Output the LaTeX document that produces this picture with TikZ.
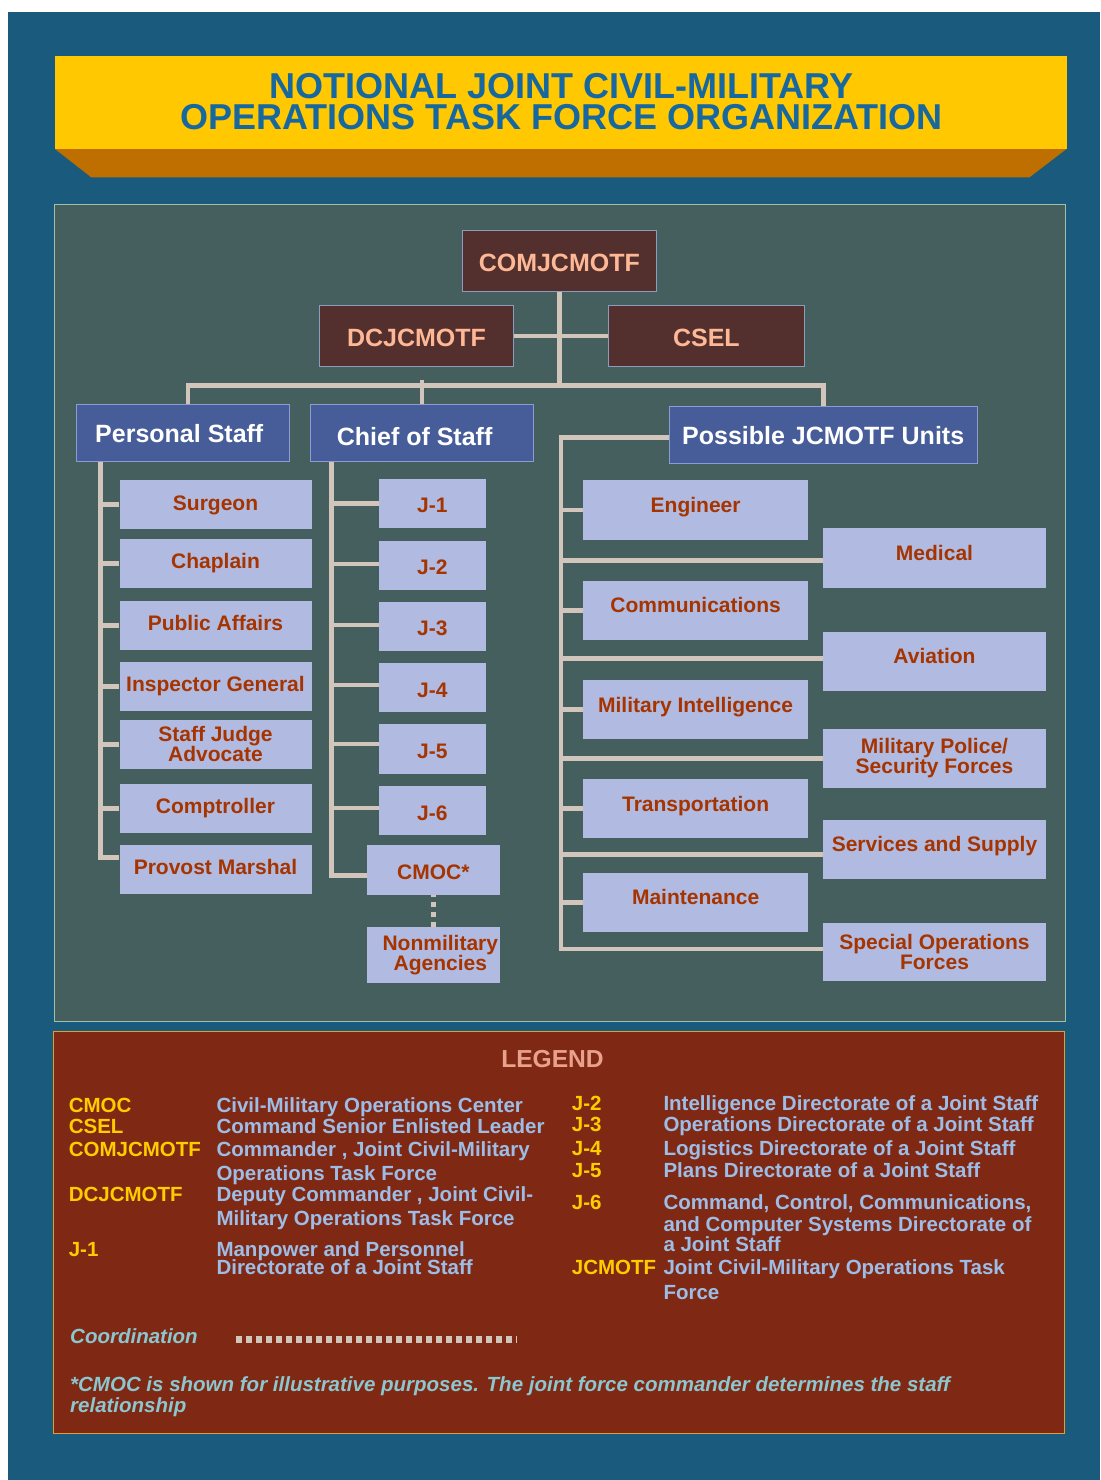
\documentclass[tikz,border=0pt]{standalone}
\usepackage{fontspec}
\setmainfont{Liberation Sans}
\newcommand\myfs[1]{\fontsize{#1}{#1}\selectfont}
\definecolor{bgblue}{RGB}{26,90,124}
\definecolor{titleblue}{RGB}{24,104,160}
\definecolor{banner}{RGB}{255,200,0}
\definecolor{bannerdk}{RGB}{191,110,0}
\definecolor{panel}{RGB}{69,95,95}
\definecolor{panelbd}{RGB}{160,192,170}
\definecolor{legbg}{RGB}{127,41,21}
\definecolor{legbd}{RGB}{224,160,48}
\definecolor{brownc}{RGB}{83,48,45}
\definecolor{brownbd}{RGB}{140,155,190}
\definecolor{peach}{RGB}{255,184,150}
\definecolor{hdrblue}{RGB}{71,93,153}
\definecolor{hdrbd}{RGB}{140,156,210}
\definecolor{lightc}{RGB}{177,186,224}
\definecolor{orangec}{RGB}{165,52,0}
\definecolor{connc}{RGB}{210,197,188}
\definecolor{termc}{RGB}{255,204,0}
\definecolor{descc}{RGB}{157,189,230}
\definecolor{legtitle}{RGB}{233,160,140}
\definecolor{notec}{RGB}{140,198,206}
\begin{document}
\begin{tikzpicture}[x=1pt,y=-1pt,
  conn/.style={draw=connc, line width=4.7pt},
  dotconn/.style={draw=connc, line width=5pt, dash pattern=on 5pt off 5pt, dash phase=3pt},
  coordline/.style={draw=connc, line width=6.5pt, dash pattern=on 6pt off 4pt},
  brownbox/.style={fill=brownc, draw=brownbd, line width=1pt, inner sep=0pt, text=peach, font=\bfseries\myfs{25}, text height=22pt, text depth=2pt},
  hdrbox/.style={fill=hdrblue, draw=hdrbd, line width=1pt, inner sep=0pt, text=white, font=\bfseries\myfs{25}, text height=21pt, text depth=3pt},
  lbase/.style={fill=lightc, inner sep=0pt, text=orangec, font=\bfseries\myfs{21}},
  lbox/.style={lbase, text height=15.5pt, text depth=4.5pt, minimum width=192pt, minimum height=49pt},
  ubox/.style={lbase, text height=12.5pt, text depth=7.5pt, minimum height=59pt},
  jbox/.style={lbase, text height=19.5pt, text depth=0.5pt, minimum width=106.7pt, minimum height=49.3pt},
  lbox2/.style={lbase, align=center, font=\bfseries\fontsize{21}{20.3}\selectfont},
  term/.style={anchor=base west, inner sep=0pt, text=termc, font=\bfseries\myfs{20.5}},
  desc/.style={anchor=base west, inner sep=0pt, text=descc, font=\bfseries\myfs{20.5}},
  note/.style={anchor=base west, inner sep=0pt, text=notec, font=\bfseries\itshape\myfs{20.5}},
  titletxt/.style={inner sep=0pt, align=center, text=titleblue, font=\bfseries\fontsize{36}{31.5}\selectfont}
]
\useasboundingbox (0,0) rectangle (1100,1480);
\fill[white] (0,0) rectangle (1100,1480);
\fill[bgblue] (8,12) rectangle (1100,1480);
% banner
\fill[bannerdk] (55,149) -- (1066.5,149) -- (1029.5,177.3) -- (91.2,177.3) -- cycle;
\fill[banner] (55,56) rectangle (1066.5,149);
\node[titletxt] (title) at (561.5,101.6) {NOTIONAL JOINT CIVIL-MILITARY\\OPERATIONS TASK FORCE ORGANIZATION};
% panels
\draw[fill=panel, draw=panelbd, line width=1pt] (54.5,204) rectangle (1065.5,1021);
\draw[fill=legbg, draw=legbd, line width=1pt] (53,1031) rectangle (1064,1433);

% command boxes
\node[brownbox, minimum width=194.6pt, minimum height=61.2pt] (com) at (559.3,261.1) {COMJCMOTF};
\node[brownbox, minimum width=194.3pt, minimum height=61.4pt] (dc) at (416.5,336) {DCJCMOTF};
\node[brownbox, minimum width=196.4pt, minimum height=61.4pt] (cs) at (706.4,336) {CSEL};
% headers
\node[hdrbox, minimum width=213.6pt, minimum height=56.7pt] (ps) at (182.8,433.3) {Personal Staff\hspace*{7pt}};
\node[hdrbox, minimum width=223.7pt, minimum height=56.7pt, text height=24pt, text depth=0pt] (cos) at (422.1,433.3) {Chief of Staff\hspace*{15pt}};
\node[hdrbox, minimum width=307.9pt, minimum height=56.6pt] (un) at (823.2,435) {Possible JCMOTF Units};

% personal staff column
\node[lbox] (sur) at (215.5,504.8) {Surgeon};
\node[lbox] (cha) at (215.5,563.3) {Chaplain};
\node[lbox] (pa) at (215.5,625.3) {Public Affairs};
\node[lbox] (ig) at (215.5,686.4) {Inspector General};
\node[lbox2, minimum width=192pt, minimum height=48.5pt] (sja) at (215.5,744.3) {Staff Judge\\Advocate};
\node[lbox] (comp) at (215.5,808.3) {Comptroller};
\node[lbox] (pm) at (215.5,869.3) {Provost Marshal};

% chief of staff column
\node[jbox] (j1) at (432.3,503.3) {J-1};
\node[jbox] (j2) at (432.3,565.3) {J-2};
\node[jbox] (j3) at (432.3,626.4) {J-3};
\node[jbox] (j4) at (432.3,687.8) {J-4};
\node[jbox] (j5) at (432.3,748.9) {J-5};
\node[jbox] (j6) at (432.3,810.7) {J-6};
\node[jbox, minimum width=132.7pt, minimum height=49.6pt] (cmoc) at (433.3,869.8) {CMOC*};
\node[lbox2, minimum width=132.7pt, minimum height=56.4pt] (nma) at (433.3,955.2) {\hspace*{14pt}Nonmilitary\\\hspace*{14pt}Agencies};

% units columns
\node[ubox, minimum width=225.2pt, minimum height=60pt] (eng) at (695.6,510) {Engineer};
\node[ubox, minimum width=225.2pt] (comm) at (695.6,610.3) {Communications};
\node[ubox, minimum width=225.2pt] (mi) at (695.6,709.5) {Military Intelligence};
\node[ubox, minimum width=225.2pt] (tr) at (695.6,808.5) {Transportation};
\node[ubox, minimum width=225.2pt] (mnt) at (695.6,902.4) {Maintenance};
\node[ubox, minimum width=223.1pt, minimum height=60pt] (med) at (934.5,557.8) {Medical};
\node[ubox, minimum width=223.1pt] (avi) at (934.5,661.3) {Aviation};
\node[lbox2, minimum width=223.1pt, minimum height=58.5pt] (mp) at (934.5,758.3) {Military Police/\\Security Forces};
\node[ubox, minimum width=223.1pt] (ss) at (934.5,849.3) {Services and Supply};
\node[lbox2, minimum width=223.1pt, minimum height=58.6pt] (sof) at (934.5,952.1) {Special Operations\\Forces};

% top connectors
\coordinate (bar) at (559.3,385.7);
\coordinate (psn) at ([xshift=5.2pt]ps.north);
\coordinate (costop) at ([yshift=24pt]cos.north);
\draw[conn] (com.south) -- (bar);
\draw[conn] (dc.east) -- (cs.west);
\draw[conn] (psn) |- (bar) -| (un.north);
\draw[conn] (cos.north) -- (costop);

% personal staff connectors
\coordinate (psl) at (100.8,461.7);
\coordinate (tpm) at ([yshift=11.6pt]pm.west);
\draw[conn] (psl) |- (tpm);
\foreach \n in {sur,cha,pa,ig,sja,comp} \draw[conn] (\n.west) -- (\n.west -| psl);

% chief of staff connectors
\coordinate (csl) at (331.7,461.7);
\coordinate (tcmoc) at ([yshift=-6pt]cmoc.west);
\draw[conn] (csl) |- (tcmoc);
\foreach \n/\s in {j1/0,j2/1.3,j3/1.4,j4/2.8,j5/4.9,j6/2.7} {
  \coordinate (t\n) at ([yshift=\s pt]\n.west);
  \draw[conn] (t\n) -- (t\n -| csl);
}
\draw[dotconn] (cmoc.south) -- (nma.north);

% units connectors
\coordinate (untop) at ([yshift=-2.3pt]un.west);
\coordinate (unx) at (561,437.3);
\coordinate (tsof) at ([yshift=3pt]sof.west);
\draw[conn] (untop) -- (unx) |- (tsof);
\foreach \n in {eng,comm,mi,tr,mnt} \draw[conn] (\n.west) -- (\n.west -| unx);
\foreach \n/\s in {med/-2.4,avi/2.7,mp/0,ss/-5} {
  \coordinate (t\n) at ([yshift=\s pt]\n.west);
  \draw[conn] (t\n) -- (t\n -| unx);
}

% legend
\node[anchor=base, inner sep=0pt, text=legtitle, font=\bfseries\myfs{24.6}] (legend) at (552.5,1067.7) {LEGEND};
\node[term] (tcmoc1) at (68.6,1112.3) {CMOC};
\node[term] (tcsel) at (68.6,1133.3) {CSEL};
\node[term] (tcom) at (68.6,1156.7) {COMJCMOTF};
\node[term] (tdc) at (68.6,1201.7) {DCJCMOTF};
\node[term] (tj1l) at (68.6,1256.7) {J-1};
\node[desc] (d1) at (216.3,1112.3) {Civil-Military Operations Center};
\node[desc] (d2) at (216.3,1133.3) {Command Senior Enlisted Leader};
\node[desc] (d3) at (216.3,1156.7) {Commander , Joint Civil-Military};
\node[desc] (d4) at (216.3,1180.5) {Operations Task Force};
\node[desc] (d5) at (216.3,1201.7) {Deputy Commander , Joint Civil-};
\node[desc] (d6) at (216.3,1225) {Military Operations Task Force};
\node[desc] (d7) at (216.3,1256.7) {Manpower and Personnel};
\node[desc] (d8) at (216.3,1274.3) {Directorate of a Joint Staff};
\node[term] (tj2l) at (571.7,1110.7) {J-2};
\node[term] (tj3l) at (571.7,1131) {J-3};
\node[term] (tj4l) at (571.7,1155) {J-4};
\node[term] (tj5l) at (571.7,1177.7) {J-5};
\node[term] (tj6l) at (571.7,1209.3) {J-6};
\node[term] (tjc) at (571.7,1274.3) {JCMOTF};
\node[desc] (e1) at (663.3,1110.7) {Intelligence Directorate of a Joint Staff};
\node[desc] (e2) at (663.3,1131) {Operations Directorate of a Joint Staff};
\node[desc] (e3) at (663.3,1155) {Logistics Directorate of a Joint Staff};
\node[desc] (e4) at (663.3,1177.7) {Plans Directorate of a Joint Staff};
\node[desc] (e5) at (663.3,1209.3) {Command, Control, Communications,};
\node[desc] (e6) at (663.3,1231.7) {and Computer Systems Directorate of};
\node[desc] (e7) at (663.3,1251) {a Joint Staff};
\node[desc] (e8) at (663.3,1274.3) {Joint Civil-Military Operations Task};
\node[desc] (e9) at (663.3,1299.3) {Force};
\node[note] (coordtxt) at (70,1343.3) {Coordination};
\coordinate (cl1) at (236,1339.3);
\coordinate (cl2) at (517,1339.3);
\draw[coordline] (cl1) -- (cl2);
\node[note] (foot1) at (70,1391.7) {*CMOC is shown for illustrative purposes. The joint force commander determines the staff};
\node[note] (foot2) at (70,1412.5) {relationship};
\end{tikzpicture}
\end{document}
